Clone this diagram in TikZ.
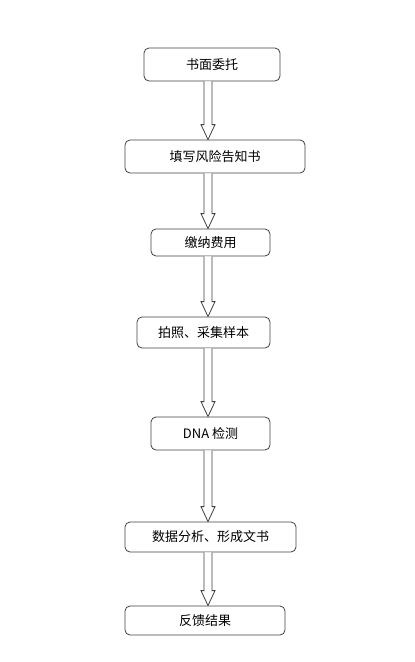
\documentclass[tikz,border=0pt]{standalone}
\usepackage{fontspec}
\newfontfamily\cjk{Noto Sans CJK SC}
\usetikzlibrary{calc}

% seta oca de um bloco ao seguinte
\newcommand{\setaoca}[2]{%
  \draw[seta] ($(#1.south -| eixo)+(-4,0)$) -- ($(#2.north -| eixo)+(-4,-15)$)
    -- ($(#2.north -| eixo)+(-7,-15)$) -- (#2.north -| eixo)
    -- ($(#2.north -| eixo)+(7,-15)$) -- ($(#2.north -| eixo)+(4,-15)$)
    -- ($(#1.south -| eixo)+(4,0)$);}

\begin{document}
\begin{tikzpicture}[x=1pt, y=-1pt]
        \tikzstyle{caixa}=[draw=black!75, line width=0.8pt, rounded corners=5pt, inner sep=0pt,
                           font=\cjk\fontsize{13}{15}\selectfont]
        \tikzstyle{seta}=[draw=black!75, line width=0.8pt, fill=white, line join=miter]

        \useasboundingbox (0,0) rectangle (415,662);

        \coordinate (eixo) at (208,0);

        \node[caixa, minimum width=136pt, minimum height=33pt] (etapa1) at (212,64.5) {书面委托};
        \node[caixa, minimum width=180pt, minimum height=33pt] (etapa2) at (215,156.5) {填写风险告知书};
        \node[caixa, minimum width=119pt, minimum height=27pt] (etapa3) at (210.5,242.5) {缴纳费用};
        \node[caixa, minimum width=133pt, minimum height=31pt] (etapa4) at (203.5,332.5) {拍照、采集样本};
        \node[caixa, minimum width=119pt, minimum height=33pt] (etapa5) at (210.5,433.5) {DNA 检测};
        \node[caixa, minimum width=171pt, minimum height=30pt] (etapa6) at (210.5,537) {数据分析、形成文书};
        \node[caixa, minimum width=160pt, minimum height=29pt] (etapa7) at (205,620.5) {反馈结果};

        \setaoca{etapa1}{etapa2}
        \setaoca{etapa2}{etapa3}
        \setaoca{etapa3}{etapa4}
        \setaoca{etapa4}{etapa5}
        \setaoca{etapa5}{etapa6}
        \setaoca{etapa6}{etapa7}
      \end{tikzpicture}
\end{document}
